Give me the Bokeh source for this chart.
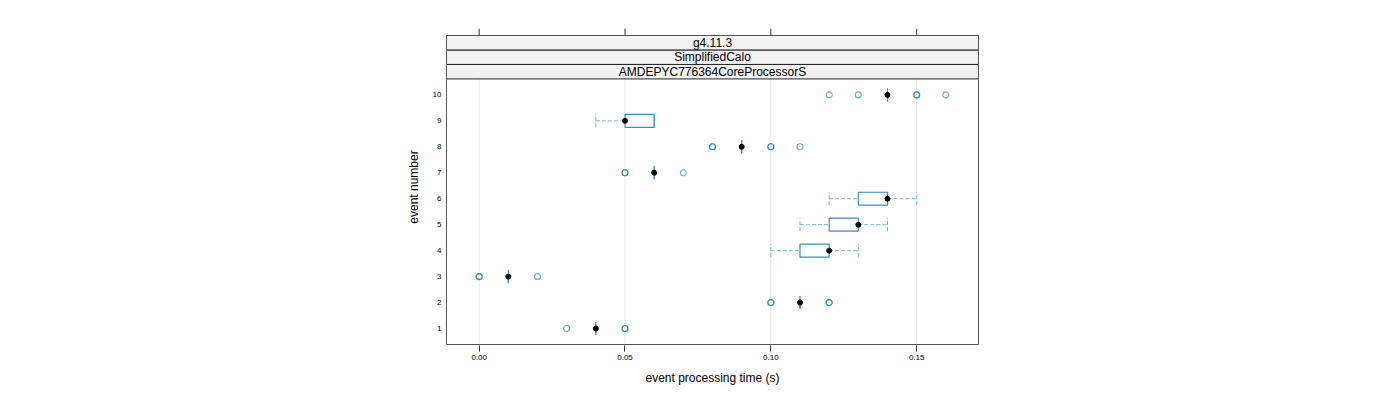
from bokeh.plotting import figure
from bokeh.models import Range1d, FixedTicker, ColumnDataSource
from bokeh.core.properties import value
from bokeh.embed import file_html
from bokeh.resources import INLINE

# ---------------- data ----------------
events = [1, 2, 3, 4, 5, 6, 7, 8, 9, 10]
median = [0.04, 0.11, 0.01, 0.12, 0.13, 0.14, 0.06, 0.09, 0.05, 0.14]
q1 = [0.04, 0.11, 0.01, 0.11, 0.12, 0.13, 0.06, 0.09, 0.05, 0.14]
q3 = [0.04, 0.11, 0.01, 0.12, 0.13, 0.14, 0.06, 0.09, 0.06, 0.14]
whisker_lo = [0.04, 0.11, 0.01, 0.10, 0.11, 0.12, 0.06, 0.09, 0.04, 0.14]
whisker_hi = [0.04, 0.11, 0.01, 0.13, 0.14, 0.15, 0.06, 0.09, 0.06, 0.14]

outlier_event = [1, 1, 1, 2, 2, 2, 2, 3, 3, 3, 7, 7, 7, 8, 8, 8, 8, 8, 10, 10, 10, 10, 10]
outlier_time = [0.03, 0.05, 0.05, 0.10, 0.10, 0.12, 0.12, 0.00, 0.00, 0.02,
                0.05, 0.05, 0.07, 0.08, 0.08, 0.10, 0.10, 0.11,
                0.12, 0.13, 0.15, 0.15, 0.16]

strip_labels = ["AMDEPYC776364CoreProcessorS", "SimplifiedCalo", "g4.11.3"]  # bottom to top
x_ticks = [0.0, 0.05, 0.10, 0.15]
x_tick_labels = ["0.00", "0.05", "0.10", "0.15"]

FONT = "Liberation Sans"
BOX_COL = "#3b8dc4"
WHISK_COL = "#74b3dd"
OUT_COL = "#0b74b8"
BORDER_COL = "#555555"

# ---------------- geometry ----------------
lo, hi = 0.0, 0.16
pad = 0.07 * (hi - lo)
XMIN, XMAX = lo - pad, hi + pad
YMIN, YPANEL = 0.385, 10.615
STRIP = 0.5577
YTOP = YPANEL + 3 * STRIP
BH = 0.25  # half box height
XPX = 2920.0  # px per x unit
YPX = 26.0    # px per y unit
TICK = 7 / YPX

FR_L, FR_R, FR_T, FR_B = 445, 979, 28, 345
W, H = 1384, 392

p = figure(width=W, height=H, output_backend="svg", toolbar_location=None,
           x_range=Range1d(XMIN - 1 / XPX, XMAX + 1 / XPX),
           y_range=Range1d(YMIN - 1 / YPX, YTOP + TICK),
           min_border_left=FR_L, min_border_right=W - FR_R,
           min_border_top=FR_T, min_border_bottom=H - FR_B)
p.grid.visible = False
p.outline_line_color = None
p.background_fill_color = "white"
p.border_fill_color = "white"

# axes
xa = p.xaxis[0]
xa.ticker = FixedTicker(ticks=x_ticks)
xa.major_label_overrides = {t: l for t, l in zip(x_ticks, x_tick_labels)}
xa.major_tick_out = 6
xa.major_tick_in = 0
xa.minor_tick_line_color = None
xa.axis_line_color = None
xa.major_tick_line_color = "#333333"
xa.major_label_text_font = FONT
xa.major_label_text_font_size = "8px"
xa.major_label_text_color = "black"
xa.major_label_standoff = 3
xa.axis_label = "event processing time (s)"
xa.axis_label_text_font = FONT
xa.axis_label_text_font_size = "12px"
xa.axis_label_text_font_style = "normal"
xa.axis_label_text_color = "black"
xa.axis_label_standoff = 8

ya = p.yaxis[0]
ya.ticker = FixedTicker(ticks=events)
ya.major_tick_out = 0
ya.major_tick_in = 0
ya.major_tick_line_color = None
ya.minor_tick_line_color = None
ya.axis_line_color = None
ya.major_label_text_font = FONT
ya.major_label_text_font_size = "8px"
ya.major_label_text_color = "black"
ya.major_label_standoff = 4
ya.axis_label = "event number"
ya.axis_label_text_font = FONT
ya.axis_label_text_font_size = "12px"
ya.axis_label_text_font_style = "normal"
ya.axis_label_text_color = "black"
ya.axis_label_standoff = 9

# grid lines (panel only)
n = len(x_ticks)
p.segment(x0=x_ticks, x1=x_ticks, y0=[YMIN] * n, y1=[YPANEL] * n,
          line_color="#e6e6e6", line_width=1)

# top tick marks
p.segment(x0=x_ticks, x1=x_ticks, y0=[YTOP] * n, y1=[YTOP + TICK] * n,
          line_color="#333333", line_width=1)

# strips
sb = [YPANEL + i * STRIP for i in range(3)]
p.quad(left=[XMIN] * 3, right=[XMAX] * 3, bottom=sb, top=[b + STRIP for b in sb],
       fill_color="#f2f2f2", line_color="#222222", line_width=1)
p.text(x=[(XMIN + XMAX) / 2] * 3, y=[b + STRIP / 2 for b in sb], text=strip_labels,
       text_font=value(FONT), text_font_size="12px", text_align="center",
       text_baseline="middle", text_color="black")

# whiskers
src = ColumnDataSource(dict(ev=events, med=median, q1=q1, q3=q3, wlo=whisker_lo, whi=whisker_hi,
                            evlo=[e - BH for e in events], evhi=[e + BH for e in events]))
p.segment(x0="wlo", x1="q1", y0="ev", y1="ev", source=src, line_color=WHISK_COL,
          line_width=1, line_dash="4 2")
p.segment(x0="q3", x1="whi", y0="ev", y1="ev", source=src, line_color=WHISK_COL,
          line_width=1, line_dash="4 2")
p.segment(x0="wlo", x1="wlo", y0="evlo", y1="evhi", source=src, line_color=WHISK_COL,
          line_width=1, line_dash="4 2")
p.segment(x0="whi", x1="whi", y0="evlo", y1="evhi", source=src, line_color=WHISK_COL,
          line_width=1, line_dash="4 2")

# boxes
p.quad(left="q1", right="q3", bottom="evlo", top="evhi", source=src, fill_color=None,
       line_color=BOX_COL, line_width=1.2)

# outliers
p.scatter(x=outlier_time, y=outlier_event, marker="circle", size=6, fill_color=None,
          line_color=OUT_COL, line_width=1.1, line_alpha=0.6)

# medians
p.scatter(x="med", y="ev", source=src, marker="circle", size=5, fill_color="black",
          line_color="black")

# panel + strip border
p.quad(left=[XMIN], right=[XMAX], bottom=[YMIN], top=[YTOP], fill_color=None,
       line_color=BORDER_COL, line_width=1)

open("out.html", "w").write(file_html(p, INLINE))
